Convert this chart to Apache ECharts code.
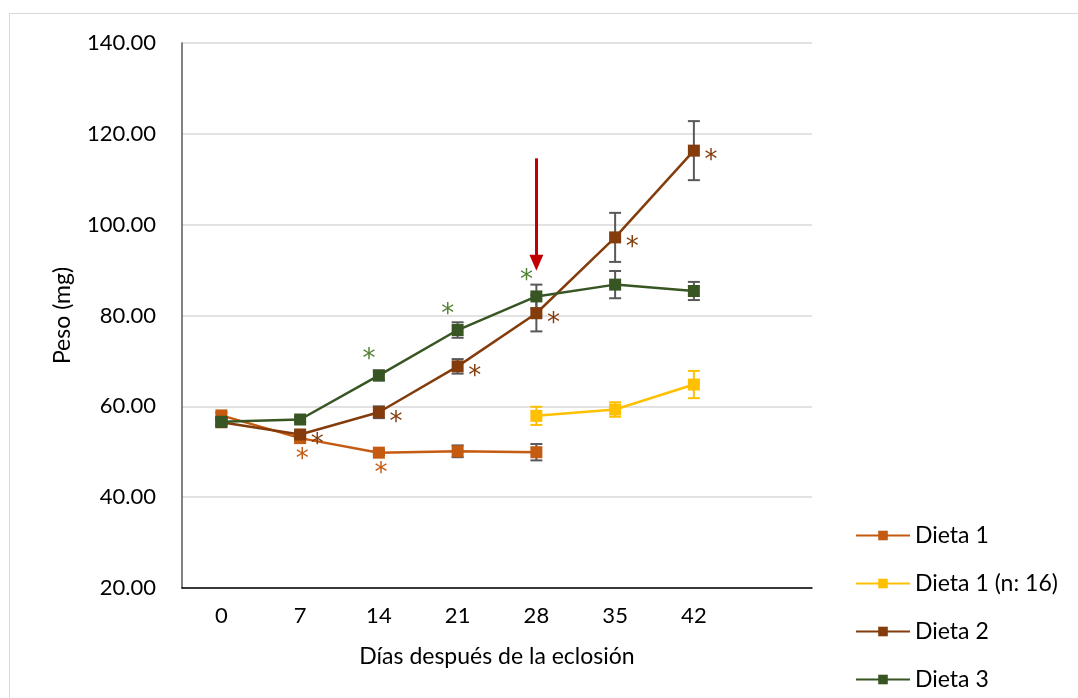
<!DOCTYPE html>
<html>
<head>
<meta charset="utf-8">
<script src="https://cdn.jsdelivr.net/npm/echarts@6/dist/echarts.min.js"></script>
<style>
html,body{margin:0;padding:0;background:#fff;}
#frame{position:absolute;left:9px;top:13px;width:1078px;height:700px;border:1px solid #d9d9d9;box-sizing:border-box;}
#chart{position:absolute;left:0;top:0;width:1078px;height:698px;}
</style>
</head>
<body>
<div id="frame"></div>
<div id="chart"></div>
<script>
// ---- data ----
const categories = ['0','7','14','21','28','35','42',''];
const yTicks = [20,40,60,80,100,120,140];

const dieta1      = [58.0, 53.0, 49.8, 50.1, 49.9, null, null, null];
const dieta1Err   = [0.6, 0.6, 0.5, 1.3, 1.8, null, null, null];
const dieta1Star  = [0, 1, 1, 0, 0, 0, 0, 0];

const dieta1n16     = [null, null, null, null, 57.9, 59.3, 64.8, null];
const dieta1n16Err  = [null, null, null, null, 2.0, 1.6, 3.0, null];

const dieta2      = [56.5, 53.8, 58.7, 68.8, 80.5, 97.2, 116.3, null];
const dieta2Err   = [0.6, 0.8, 1.3, 1.6, 4.0, 5.4, 6.5, null];
const dieta2Star  = [0, 1, 1, 1, 1, 1, 1, 0];

const dieta3      = [56.6, 57.1, 66.8, 76.8, 84.2, 86.8, 85.4, null];
const dieta3Err   = [0.6, 0.5, 1.1, 1.7, 2.6, 3.0, 2.0, null];
const dieta3Star  = [0, 0, 1, 1, 1, 0, 0, 0];

const arrowDay = '28';
const arrowFrom = 114.6;
const arrowTo = 91.6;

// ---- helpers ----
const FONT = 'Lato, "Open Sans", sans-serif';
const STARFONT = '"DejaVu Sans", sans-serif';
const C1 = '#C55A11', C1b = '#FFC000', C2 = '#843C0C', C3 = '#375623', C3s = '#548235';

function errData(vals, errs){
  const out = [];
  vals.forEach((v,i)=>{ if(v!=null && errs[i]!=null) out.push([i, v-errs[i], v+errs[i]]); });
  return out;
}
function errSeries(vals, errs, color){
  return {
    type:'custom', silent:true, z:3,
    data: errData(vals, errs),
    renderItem:function(params, api){
      const x = api.value(0);
      const lo = api.coord([x, api.value(1)]);
      const hi = api.coord([x, api.value(2)]);
      const w = 6;
      const st = {stroke:color, lineWidth:2};
      return {type:'group', children:[
        {type:'line', shape:{x1:lo[0],y1:lo[1],x2:hi[0],y2:hi[1]}, style:st},
        {type:'line', shape:{x1:lo[0]-w,y1:lo[1],x2:lo[0]+w,y2:lo[1]}, style:st},
        {type:'line', shape:{x1:hi[0]-w,y1:hi[1],x2:hi[0]+w,y2:hi[1]}, style:st}
      ]};
    }
  };
}
function starData(vals, stars, color, offset){
  return vals.map((v,i)=>{
    if(!stars[i]) return {value:v};
    return {value:v, label:{show:true, formatter:'*', color:color, offset:offset, fontSize:26, fontFamily:STARFONT, position:'inside'}};
  });
}
function lineSeries(name, vals, color, starColor, stars, offset){
  return {
    name:name, type:'line', z:4,
    data: stars ? starData(vals, stars, starColor, offset) : vals,
    symbol:'rect', symbolSize:12, showSymbol:true,
    lineStyle:{color:color, width:2.5},
    itemStyle:{color:color},
    label:{show:false},
    connectNulls:false,
    animation:false
  };
}

const chart = echarts.init(document.getElementById('chart'));
chart.setOption({
  animation:false,
  backgroundColor:'transparent',
  grid:{left:182, right:266, top:43, bottom:110, containLabel:false},
  legend:{
    orient:'vertical', left:850, top:519, itemGap:25, itemWidth:54, itemHeight:12,
    textStyle:{fontFamily:FONT, fontSize:23, color:'#000'},
    data:['Dieta 1','Dieta 1 (n: 16)','Dieta 2','Dieta 3']
  },
  xAxis:{
    type:'category', data:categories, boundaryGap:true,
    axisLine:{lineStyle:{color:'#000', width:1.5}},
    axisTick:{show:false},
    axisLabel:{fontFamily:FONT, fontSize:22, color:'#000', margin:17},
    name:'Días después de la eclosión', nameLocation:'middle', nameGap:57,
    nameTextStyle:{fontFamily:FONT, fontSize:23, color:'#000'}
  },
  yAxis:{
    type:'value', min:yTicks[0], max:yTicks[yTicks.length-1], interval:20,
    axisLine:{show:true, lineStyle:{color:'#595959', width:1.5}},
    axisTick:{show:false},
    splitLine:{lineStyle:{color:'#d9d9d9', width:1.5}},
    axisLabel:{fontFamily:FONT, fontSize:22, color:'#000', margin:26, formatter:v=>v.toFixed(2)},
    name:'Peso (mg)', nameLocation:'middle', nameGap:108, nameRotate:90,
    nameTextStyle:{fontFamily:FONT, fontSize:23, color:'#000'}
  },
  series:[
    errSeries(dieta1, dieta1Err, '#595959'),
    errSeries(dieta1n16, dieta1n16Err, C1b),
    errSeries(dieta2, dieta2Err, '#595959'),
    errSeries(dieta3, dieta3Err, '#595959'),
    lineSeries('Dieta 1', dieta1, C1, C1, dieta1Star, [2,22]),
    lineSeries('Dieta 1 (n: 16)', dieta1n16, C1b),
    lineSeries('Dieta 2', dieta2, C2, C2, dieta2Star, [17,11]),
    lineSeries('Dieta 3', dieta3, C3, C3s, dieta3Star, [-10,-15]),
    {
      type:'line', silent:true, z:6, symbol:'none', animation:false,
      lineStyle:{width:0, opacity:0},
      data:[],
      markLine:{
        silent:true, symbol:['none','triangle'], symbolSize:[14,16],
        lineStyle:{color:'#C00000', width:3, type:'solid'},
        label:{show:false},
        data:[[{coord:[arrowDay, arrowFrom]},{coord:[arrowDay, arrowTo]}]]
      }
    }
  ]
});
</script>
</body>
</html>
